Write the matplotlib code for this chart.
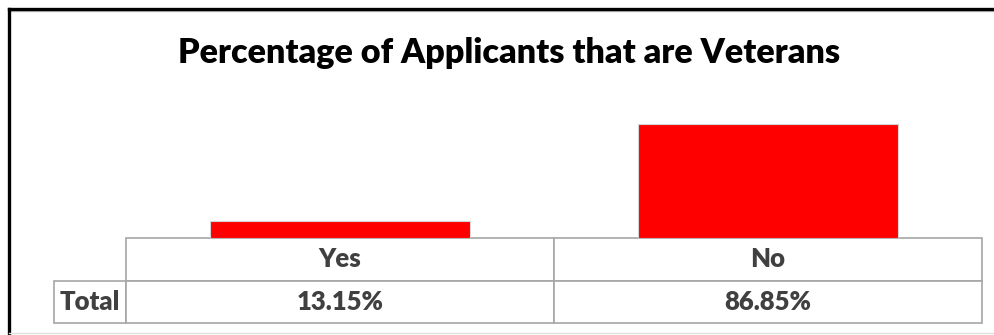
import matplotlib
matplotlib.use('Agg')
import matplotlib.pyplot as plt
from matplotlib.lines import Line2D

# Veterans share of applicants
categories = ['Yes', 'No']
values = [13.15, 86.85]
row_label = 'Total'
title = 'Percentage of Applicants that are Veterans'

plt.rcParams['font.family'] = ['Lato', 'DejaVu Sans']

W, H = 995, 335
fig = plt.figure(figsize=(W / 100, H / 100), dpi=100)

# plot area in pixels: x 126..982, baseline at y=238, 100% -> 131 px
x0, x1, base, top = 126, 982, 238, 107
ax = fig.add_axes([x0 / W, 1 - base / H, (x1 - x0) / W, (base - top) / H])
ax.bar(range(len(categories)), values, width=0.607, color='#ff0000',
       edgecolor='#d4d4d4', linewidth=0.8)
ax.set_xlim(-0.5, len(categories) - 0.5)
ax.set_ylim(0, 100)
ax.set_xticks([])
ax.set_yticks([])
for s in ax.spines.values():
    s.set_visible(False)

# data table under the bars
ax_w = x1 - x0
ax_h = base - top
tab_left, tab_h = 54, 85
cell_text = [[row_label] + ['%.2f%%' % v for v in values]]
tbl = ax.table(cellText=cell_text, colLabels=[''] + categories,
               colWidths=[x0 - tab_left, 428, 428], cellLoc='center',
               bbox=[(tab_left - x0) / ax_w, -tab_h / ax_h,
                     (x1 - tab_left) / ax_w, tab_h / ax_h])
tbl.auto_set_font_size(False)
for (r, c), cell in tbl.get_celld().items():
    cell.set_edgecolor('#a6a6a6')
    cell.set_linewidth(1.2)
    cell.set_facecolor('white')
    t = cell.get_text()
    t.set_fontsize(18.5)
    t.set_fontweight('heavy')
    t.set_color('#404040')
    if r == 0 and c == 0:
        cell.visible_edges = ''
    if c == 0:
        cell.PAD = 0.02

fig.text(509 / W, 1 - 63 / H, title, ha='center', va='baseline',
         fontsize=24.6, fontweight='heavy', color='black')

# frame around the chart
fig.add_artist(Line2D([9 / W, 1], [1 - 11 / H, 1 - 11 / H], color='#bfbfbf', lw=1))
fig.add_artist(Line2D([9 / W, 1], [1 - 9 / H, 1 - 9 / H], color='black', lw=2.4,
                      solid_capstyle='projecting'))
fig.add_artist(Line2D([9 / W, 9 / W], [1 - 9 / H, 0], color='black', lw=2.4))
fig.add_artist(Line2D([9 / W, 1], [1 - 333 / H, 1 - 333 / H], color='#e0e0e0', lw=1))

fig.savefig('out.png', dpi=100)
